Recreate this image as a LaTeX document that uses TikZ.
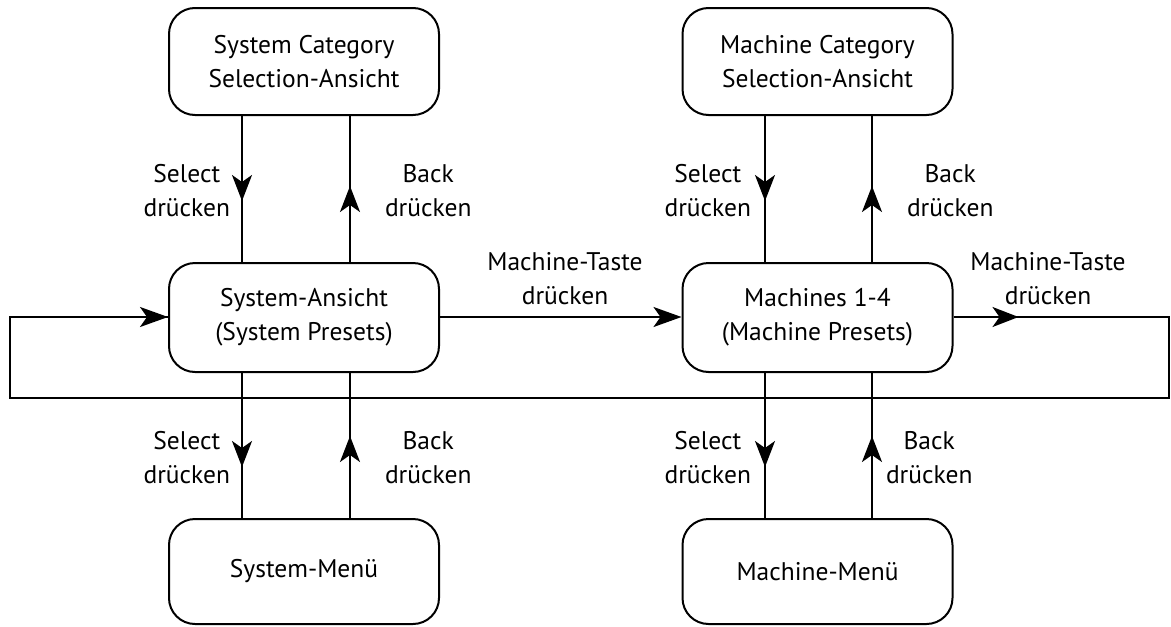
\documentclass[tikz,border=0pt]{standalone}
\usepackage{fontspec}
\setmainfont{PT Sans}
\usetikzlibrary{arrows.meta,decorations.markings}
\begin{document}
\begin{tikzpicture}[x=1pt,y=-1pt,
  line width=2pt,
  every node/.style={font=\fontsize{25.5}{34}\selectfont},
  state/.style={draw,rounded corners=26pt,align=center,inner sep=0pt,
    minimum width=270pt},
  lbl/.style={align=center,inner sep=0pt},
  tip/.style={-{Stealth[length=28pt,width=20pt,inset=7pt]}},
  midtip/.style={postaction={decorate},decoration={markings,
    mark=at position #1 with {\arrow{Stealth[length=26pt,width=20pt,inset=7pt]}}}}
]
\useasboundingbox (0,0) rectangle (1171,627);

% states
\node[state,minimum height=107pt] (sc) at (304,61.5) {System Category\\Selection-Ansicht};
\node[state,minimum height=109pt] (sa) at (304,317.5) {System-Ansicht\\(System Presets)};
\node[state,minimum height=105pt] (sm) at (304,571.5) {System-Menü};
\node[state,minimum height=107pt] (mc) at (817.5,61.5) {Machine Category\\Selection-Ansicht};
\node[state,minimum height=109pt] (ma) at (817.5,317.5) {Machines 1-4\\(Machine Presets)};
\node[state,minimum height=105pt] (mm) at (817.5,571.5) {Machine-Menü};

% loop back coordinates
\coordinate (rt) at (1169,317);
\coordinate (rb) at (1169,398);
\coordinate (lb) at (10,398);
\coordinate (lt) at (10,317);

% system column
\draw[midtip=85pt] (sc.south -| 242,0) -- (sa.north -| 242,0);
\draw[midtip=76pt] (sa.north -| 350,0) -- (sc.south -| 350,0);
\draw[midtip=94pt] (sa.south -| 242,0) -- (sm.north -| 242,0);
\draw[midtip=82pt] (sm.north -| 350,0) -- (sa.south -| 350,0);

% machine column
\draw[midtip=85pt] (mc.south -| 765,0) -- (ma.north -| 765,0);
\draw[midtip=76pt] (ma.north -| 872,0) -- (mc.south -| 872,0);
\draw[midtip=94pt] (ma.south -| 765,0) -- (mm.north -| 765,0);
\draw[midtip=82pt] (mm.north -| 872,0) -- (ma.south -| 872,0);

% horizontal transitions
\draw[tip] (sa.east |- 0,317) -- (ma.west |- 0,317);
\draw[midtip=65pt] (ma.east |- 0,317) -- (rt) -- (rb) -- (lb) -- (lt) -- (lt -| sa.west);
\draw[tip] (lt) -- (lt -| sa.west);

% labels
\node[lbl,anchor=east] (l1) at (231,191) {Select\\drücken};
\node[lbl,anchor=west] (l2) at (384,191) {Back\\drücken};
\node[lbl,anchor=east] (l3) at (231,458) {Select\\drücken};
\node[lbl,anchor=west] (l4) at (384,458) {Back\\drücken};
\node[lbl,anchor=east] (l5) at (752,191) {Select\\drücken};
\node[lbl,anchor=west] (l6) at (906,191) {Back\\drücken};
\node[lbl,anchor=east] (l7) at (752,458) {Select\\drücken};
\node[lbl,anchor=west] (l8) at (885,458) {Back\\drücken};
\node[lbl] (l9) at (565,279) {Machine-Taste\\drücken};
\node[lbl] (l10) at (1048,279) {Machine-Taste\\drücken};
\end{tikzpicture}
\end{document}
